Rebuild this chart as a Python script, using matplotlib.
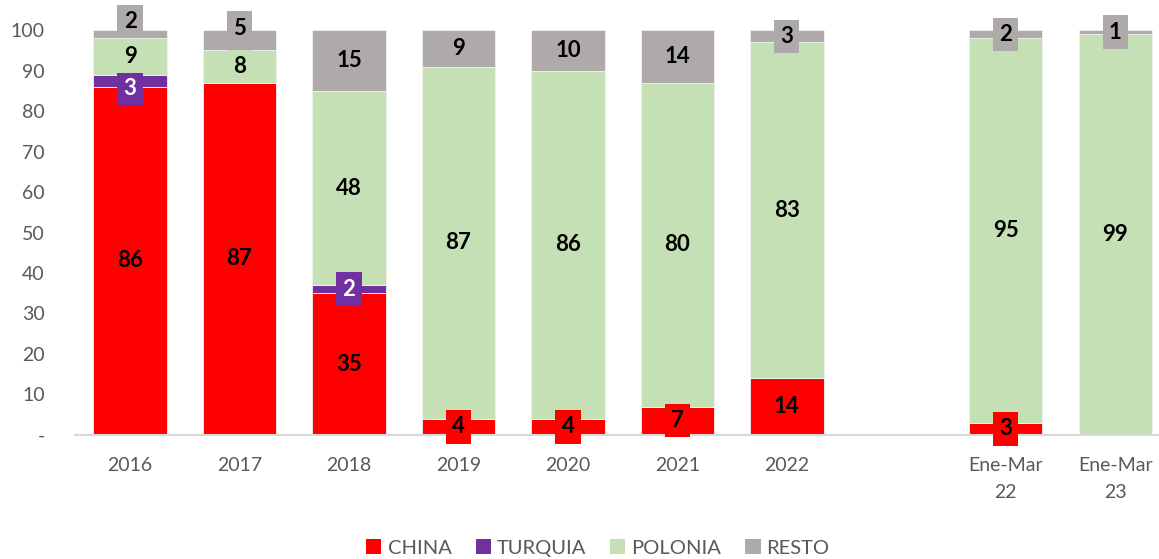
import numpy as np
import matplotlib.pyplot as plt
from matplotlib.patches import Patch

plt.rcParams['font.family'] = ['Lato', 'DejaVu Sans']

# ------------------------------- Data --------------------------------------------------
categories = ["2016", "2017", "2018", "2019", "2020", "2021", "2022", "Ene-Mar\n22", "Ene-Mar\n23"]
china = [86, 87, 35, 4, 4, 7, 14, 3, 0]
turquia = [3, 0, 2, 0, 0, 0, 0, 0, 0]
polonia = [9, 8, 48, 87, 86, 80, 83, 95, 99]
resto = [2, 5, 15, 9, 10, 14, 3, 2, 1]

series = [("CHINA", china, "#FF0000", "black"),
          ("TURQUIA", turquia, "#7030A0", "white"),
          ("POLONIA", polonia, "#C5E0B4", "black"),
          ("RESTO", resto, "#AEAAAA", "black")]

# positions: gap between 2022 and the quarterly bars
x = np.array([0, 1, 2, 3, 4, 5, 6, 8, 9])

# label nudges (manually moved labels in the original)
nudge = {("RESTO", 0): 3.2, ("RESTO", 1): 3.0, ("TURQUIA", 0): -1.8}

fig = plt.figure(figsize=(11.59, 5.59), dpi=100)
ax = fig.add_axes([0.065, 0.222, 0.935, 0.724])

bottom = np.zeros(len(x))
for name, vals, color, tcolor in series:
    vals = np.array(vals, dtype=float)
    # keep the stack within 100 for the rounded shares
    h = np.minimum(vals, 100 - bottom)
    ax.bar(x, h, width=0.67, bottom=bottom, color=color, edgecolor="#F2F2F2",
           linewidth=0.6, label=name)
    for i, v in enumerate(vals):
        if v <= 0:
            continue
        yc = bottom[i] + h[i] / 2 + nudge.get((name, i), 0)
        ax.text(x[i], yc, f"{int(v)}", ha="center", va="center", fontsize=16,
                fontweight="bold", color=tcolor, zorder=5,
                bbox=dict(boxstyle="square,pad=0.28", facecolor=color, edgecolor="none"))
    bottom += h

ax.set_xlim(-0.5, 9.4)
ax.set_ylim(0, 100)
ax.set_yticks(range(0, 101, 10))
ax.set_yticklabels(["-"] + [str(v) for v in range(10, 101, 10)])
ax.set_xticks(x)
ax.set_xticklabels(categories, linespacing=1.7)
ax.tick_params(axis="both", length=0, labelsize=14, labelcolor="#595959")
ax.tick_params(axis="x", pad=16)
ax.tick_params(axis="y", pad=22)
for s in ["top", "right", "left"]:
    ax.spines[s].set_visible(False)
ax.spines["bottom"].set_color("#D9D9D9")
ax.spines["bottom"].set_linewidth(1.5)

handles = [Patch(facecolor=c, label=n) for n, _, c, _ in series]
fig.legend(handles=handles, loc="center", bbox_to_anchor=(0.516, 0.02), ncol=4,
           frameon=False, fontsize=14.5, labelcolor="#595959", handlelength=0.75,
           handleheight=0.75, handletextpad=0.3, columnspacing=1.2)

fig.savefig("out.png", dpi=100)
plt.close()
